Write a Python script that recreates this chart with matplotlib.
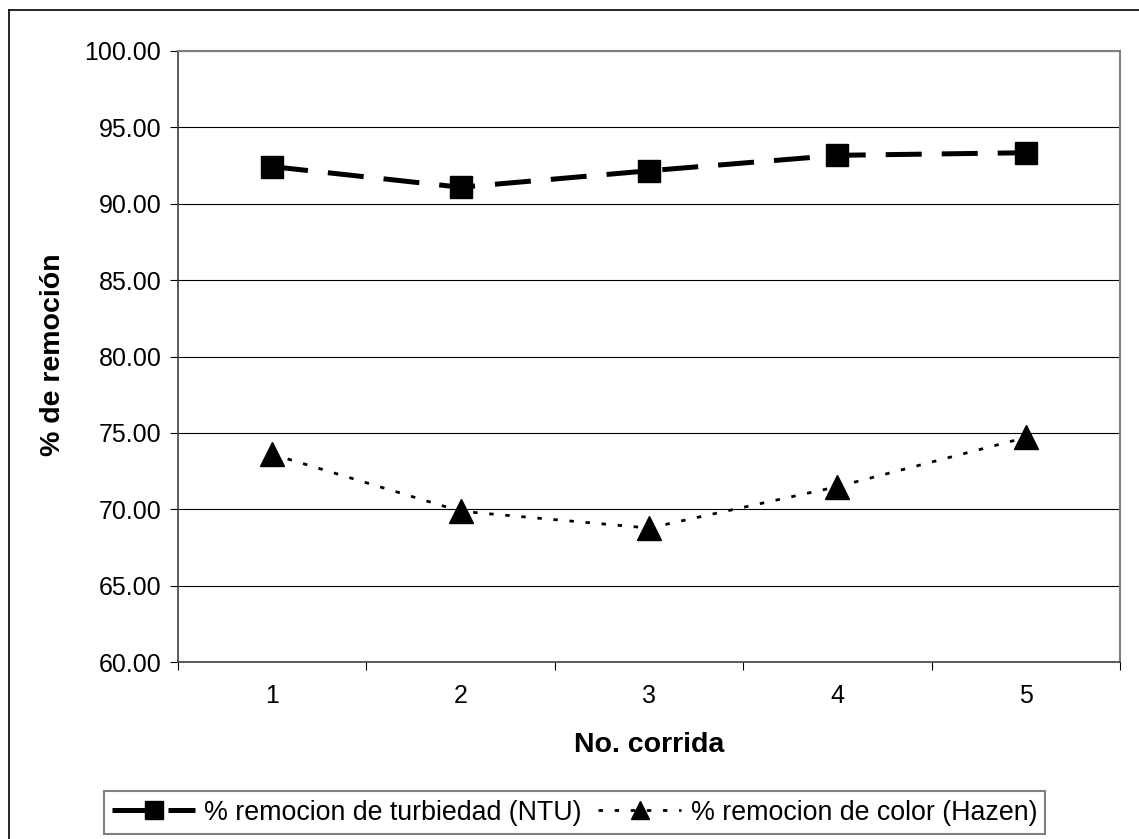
import matplotlib
matplotlib.use("Agg")
import matplotlib.pyplot as plt
from matplotlib.lines import Line2D
from matplotlib.ticker import FixedLocator, FormatStrFormatter

plt.rcParams['font.family'] = ['Liberation Sans', 'DejaVu Sans']

# Run numbers and removal percentages
corridas = [1, 2, 3, 4, 5]
turbiedad = [92.43, 91.08, 92.16, 93.17, 93.34]
color = [73.60, 69.87, 68.77, 71.48, 74.70]
y_ticks = [60, 65, 70, 75, 80, 85, 90, 95, 100]

W, H = 1139, 839
fig = plt.figure(figsize=(W / 100, H / 100), dpi=100)
ax = fig.add_axes([178 / W, 1 - 662 / H, (1120 - 178) / W, (662 - 51) / H])

ax.plot(corridas, turbiedad, color='black', lw=3.6, dashes=(7.2, 4.0),
        marker='s', ms=16, mfc='black', mec='black',
        label='% remocion de turbiedad (NTU)')
ax.plot(corridas, color, color='black', lw=2.0, dashes=(1.6, 4.2),
        marker='^', ms=17, mfc='black', mec='black',
        label='% remocion de color (Hazen)')

ax.set_xlim(0.5, 5.5)
ax.set_ylim(60, 100)
ax.yaxis.set_major_locator(FixedLocator(y_ticks))
ax.yaxis.set_major_formatter(FormatStrFormatter('%.2f'))
ax.grid(axis='y', color='black', lw=0.8)
ax.set_axisbelow(True)

ax.set_xticks(corridas)
ax.set_xticks([c + 0.5 for c in [0] + corridas], minor=True)
ax.tick_params(axis='x', which='major', length=0, pad=16, labelsize=18)
ax.tick_params(axis='x', which='minor', length=6, width=0.8, direction='out')
ax.tick_params(axis='y', which='major', length=6, width=0.8, direction='out',
               pad=6, labelsize=18)

for side in ['left', 'bottom']:
    ax.spines[side].set_color('#404040')
    ax.spines[side].set_linewidth(1.2)
for side in ['top', 'right']:
    ax.spines[side].set_color('#808080')
    ax.spines[side].set_linewidth(1.5)

fig.text(53 / W, 1 - 355 / H, '% de remoción', rotation=90, ha='center',
         va='center', fontsize=20.5, fontweight='bold')
fig.text(649 / W, 1 - 745 / H, 'No. corrida', ha='center', va='center',
         fontsize=20.5, fontweight='bold')

leg = fig.legend(loc='center', bbox_to_anchor=(574.5 / W, 1 - 812.5 / H),
                 ncol=2, fontsize=19.3, frameon=True, fancybox=False,
                 handlelength=3.1, handletextpad=0.35, columnspacing=0.6,
                 markerscale=0.8, borderpad=0.3)
leg.get_frame().set_edgecolor('#606060')
leg.get_frame().set_linewidth(1.5)

# Outer chart frame (left and top edges)
fig.add_artist(Line2D([9 / W, 9 / W], [0, 1 - 10 / H], transform=fig.transFigure,
                      color='black', lw=1.2))
fig.add_artist(Line2D([9 / W, 1], [1 - 10 / H, 1 - 10 / H], transform=fig.transFigure,
                      color='black', lw=1.2))

fig.savefig('out.png', dpi=100, facecolor='white')
